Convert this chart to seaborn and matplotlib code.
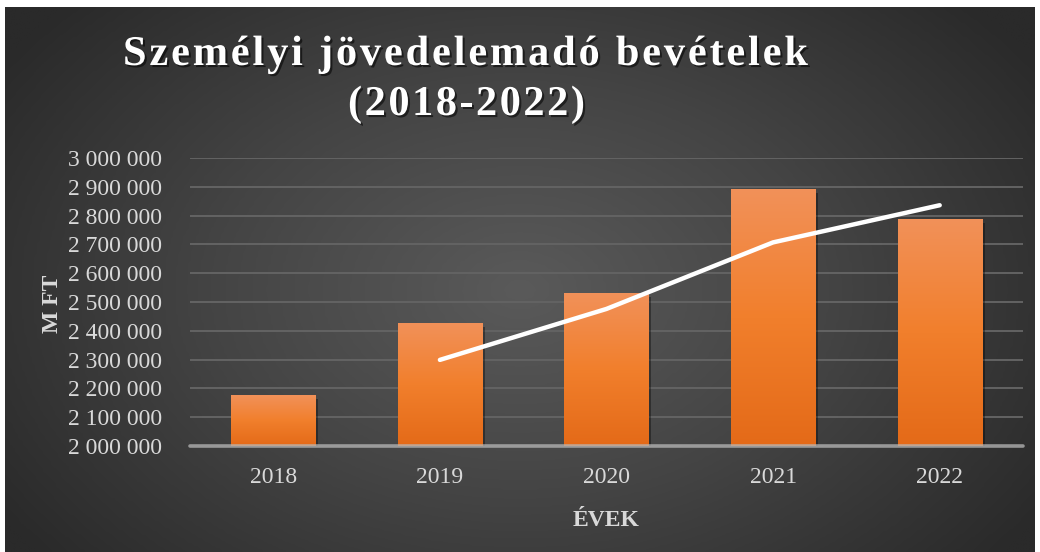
import numpy as np
import pandas as pd
import matplotlib
matplotlib.use("Agg")
import matplotlib.pyplot as plt
import matplotlib.patheffects as pe
from matplotlib.colors import LinearSegmentedColormap
import seaborn as sns

# ---- data ----
years = ["2018", "2019", "2020", "2021", "2022"]
revenue = [2174000, 2424000, 2528000, 2889000, 2785000]
trend_years = ["2019", "2020", "2021", "2022"]
trend_values = [2299000, 2476000, 2707000, 2836000]
y_ticks = [2000000, 2100000, 2200000, 2300000, 2400000, 2500000,
           2600000, 2700000, 2800000, 2900000, 3000000]
title_lines = ["Személyi jövedelemadó bevételek", "(2018-2022)"]
x_label = "ÉVEK"
y_label = "M FT"

sns.set_theme(style="white")
plt.rcParams['font.family'] = ['Liberation Serif', 'DejaVu Serif']

W, H, DPI = 1040, 552, 100
fig = plt.figure(figsize=(W / DPI, H / DPI), dpi=DPI, facecolor="white")

# ---- background (radial gradient panel) ----
bg = fig.add_axes([0, 0, 1, 1], zorder=-10)
bg.axis("off")
x0, x1, y0, y1 = 5, 1035, 7, 552
xx, yy = np.meshgrid(np.linspace(x0, x1, 400), np.linspace(y0, y1, 220))
r = np.sqrt(((xx - 520) / 620) ** 2 + ((yy - 290) / 420) ** 2)
r = np.clip(r, 0, 1)
bg_cmap = LinearSegmentedColormap.from_list("bg", ["#5a5a5a", "#444444", "#2a2a2a"])
bg.imshow(r, cmap=bg_cmap, vmin=0, vmax=1, extent=(x0, x1, y1, y0),
          aspect="auto", interpolation="bilinear")
bg.set_xlim(0, W)
bg.set_ylim(H, 0)

# ---- main axes ----
ax = fig.add_axes([190 / W, 106 / H, 833 / W, 288 / H])
ax.patch.set_alpha(0)
df = pd.DataFrame({"year": years, "revenue": revenue})
sns.barplot(data=df, x="year", y="revenue", ax=ax, color="#f07f2f",
            width=0.505, saturation=1, zorder=3, linewidth=0, edgecolor="none")

ymin, ymax = y_ticks[0], y_ticks[-1]
ax.set_yticks(y_ticks)
ax.set_yticklabels([f"{v:,.0f}".replace(",", " ") for v in y_ticks])
for v in y_ticks[1:]:
    ax.axhline(v, color="#636363", lw=1.4, zorder=1)

# gradient fill for bars
bar_cmap = LinearSegmentedColormap.from_list("bar", ["#e46a18", "#f17f2c", "#f19159"])
grad = np.linspace(0, 1, 256).reshape(-1, 1)
for p in list(ax.patches):
    p.set_path_effects([pe.SimplePatchShadow(offset=(2, -2), shadow_rgbFace="black", alpha=0.35),
                        pe.Normal()])
    bx, bw = p.get_x(), p.get_width()
    top = p.get_y() + p.get_height()
    ax.imshow(grad, cmap=bar_cmap, origin="lower", aspect="auto",
              extent=(bx, bx + bw, ymin, top), zorder=3.5, interpolation="nearest")
ax.set_xlim(-0.5, len(years) - 0.5)
ax.set_ylim(ymin, ymax)

# trend line
trend_x = [years.index(y) for y in trend_years]
sns.lineplot(x=trend_x, y=trend_values, ax=ax, color="white", lw=3.2,
             zorder=5, solid_capstyle="round")

# baseline
ax.axhline(ymin, color="#b8b8b8", lw=2.6, alpha=0.75, zorder=6, clip_on=False)

for s in ax.spines.values():
    s.set_visible(False)
ax.tick_params(axis="both", length=0, colors="#d9d9d9", labelsize=17)
ax.tick_params(axis="y", pad=20)
ax.tick_params(axis="x", pad=15)
ax.set_xlabel("")
ax.set_ylabel("")
ax.set_xticks(range(len(years)))
ax.set_xticklabels(years)
ax.set_xlim(-0.5, len(years) - 0.5)
ax.set_ylim(ymin, ymax)

fig.text(52 / W, 1 - 304 / H, y_label, rotation=90, ha="center", va="center",
         color="#d9d9d9", fontsize=17, fontweight="bold")
fig.text(606 / W, 1 - 520 / H, x_label, ha="center", va="center",
         color="#d9d9d9", fontsize=17, fontweight="bold")

# ---- spaced title ----
renderer = fig.canvas.get_renderer()
shadow = [pe.SimplePatchShadow(offset=(1.5, -1.5), shadow_rgbFace="black", alpha=0.55), pe.Normal()]
def char_width(ch, size):
    if ch == " ":
        a = fig.text(0, 0, "nn", fontsize=size, fontweight="bold")
        b = fig.text(0, 0, "n n", fontsize=size, fontweight="bold")
        w = b.get_window_extent(renderer).width - a.get_window_extent(renderer).width
        a.remove(); b.remove()
        return w
    t = fig.text(0, 0, ch, fontsize=size, fontweight="bold")
    w = t.get_window_extent(renderer).width
    t.remove()
    return w

def spaced_title(text, left, right, baseline, size):
    widths = [char_width(ch, size) for ch in text]
    spacing = (right - left - sum(widths)) / (len(text) - 1)
    x = left
    for ch, w in zip(text, widths):
        if ch != " ":
            fig.text(x / W, 1 - baseline / H, ch, fontsize=size, fontweight="bold",
                     color="white", ha="left", va="baseline", path_effects=shadow)
        x += w + spacing

spaced_title(title_lines[0], 123, 808, 65, 30.5)
spaced_title(title_lines[1], 348, 585, 115, 30.5)

fig.savefig("out.png", dpi=DPI, facecolor="white")
